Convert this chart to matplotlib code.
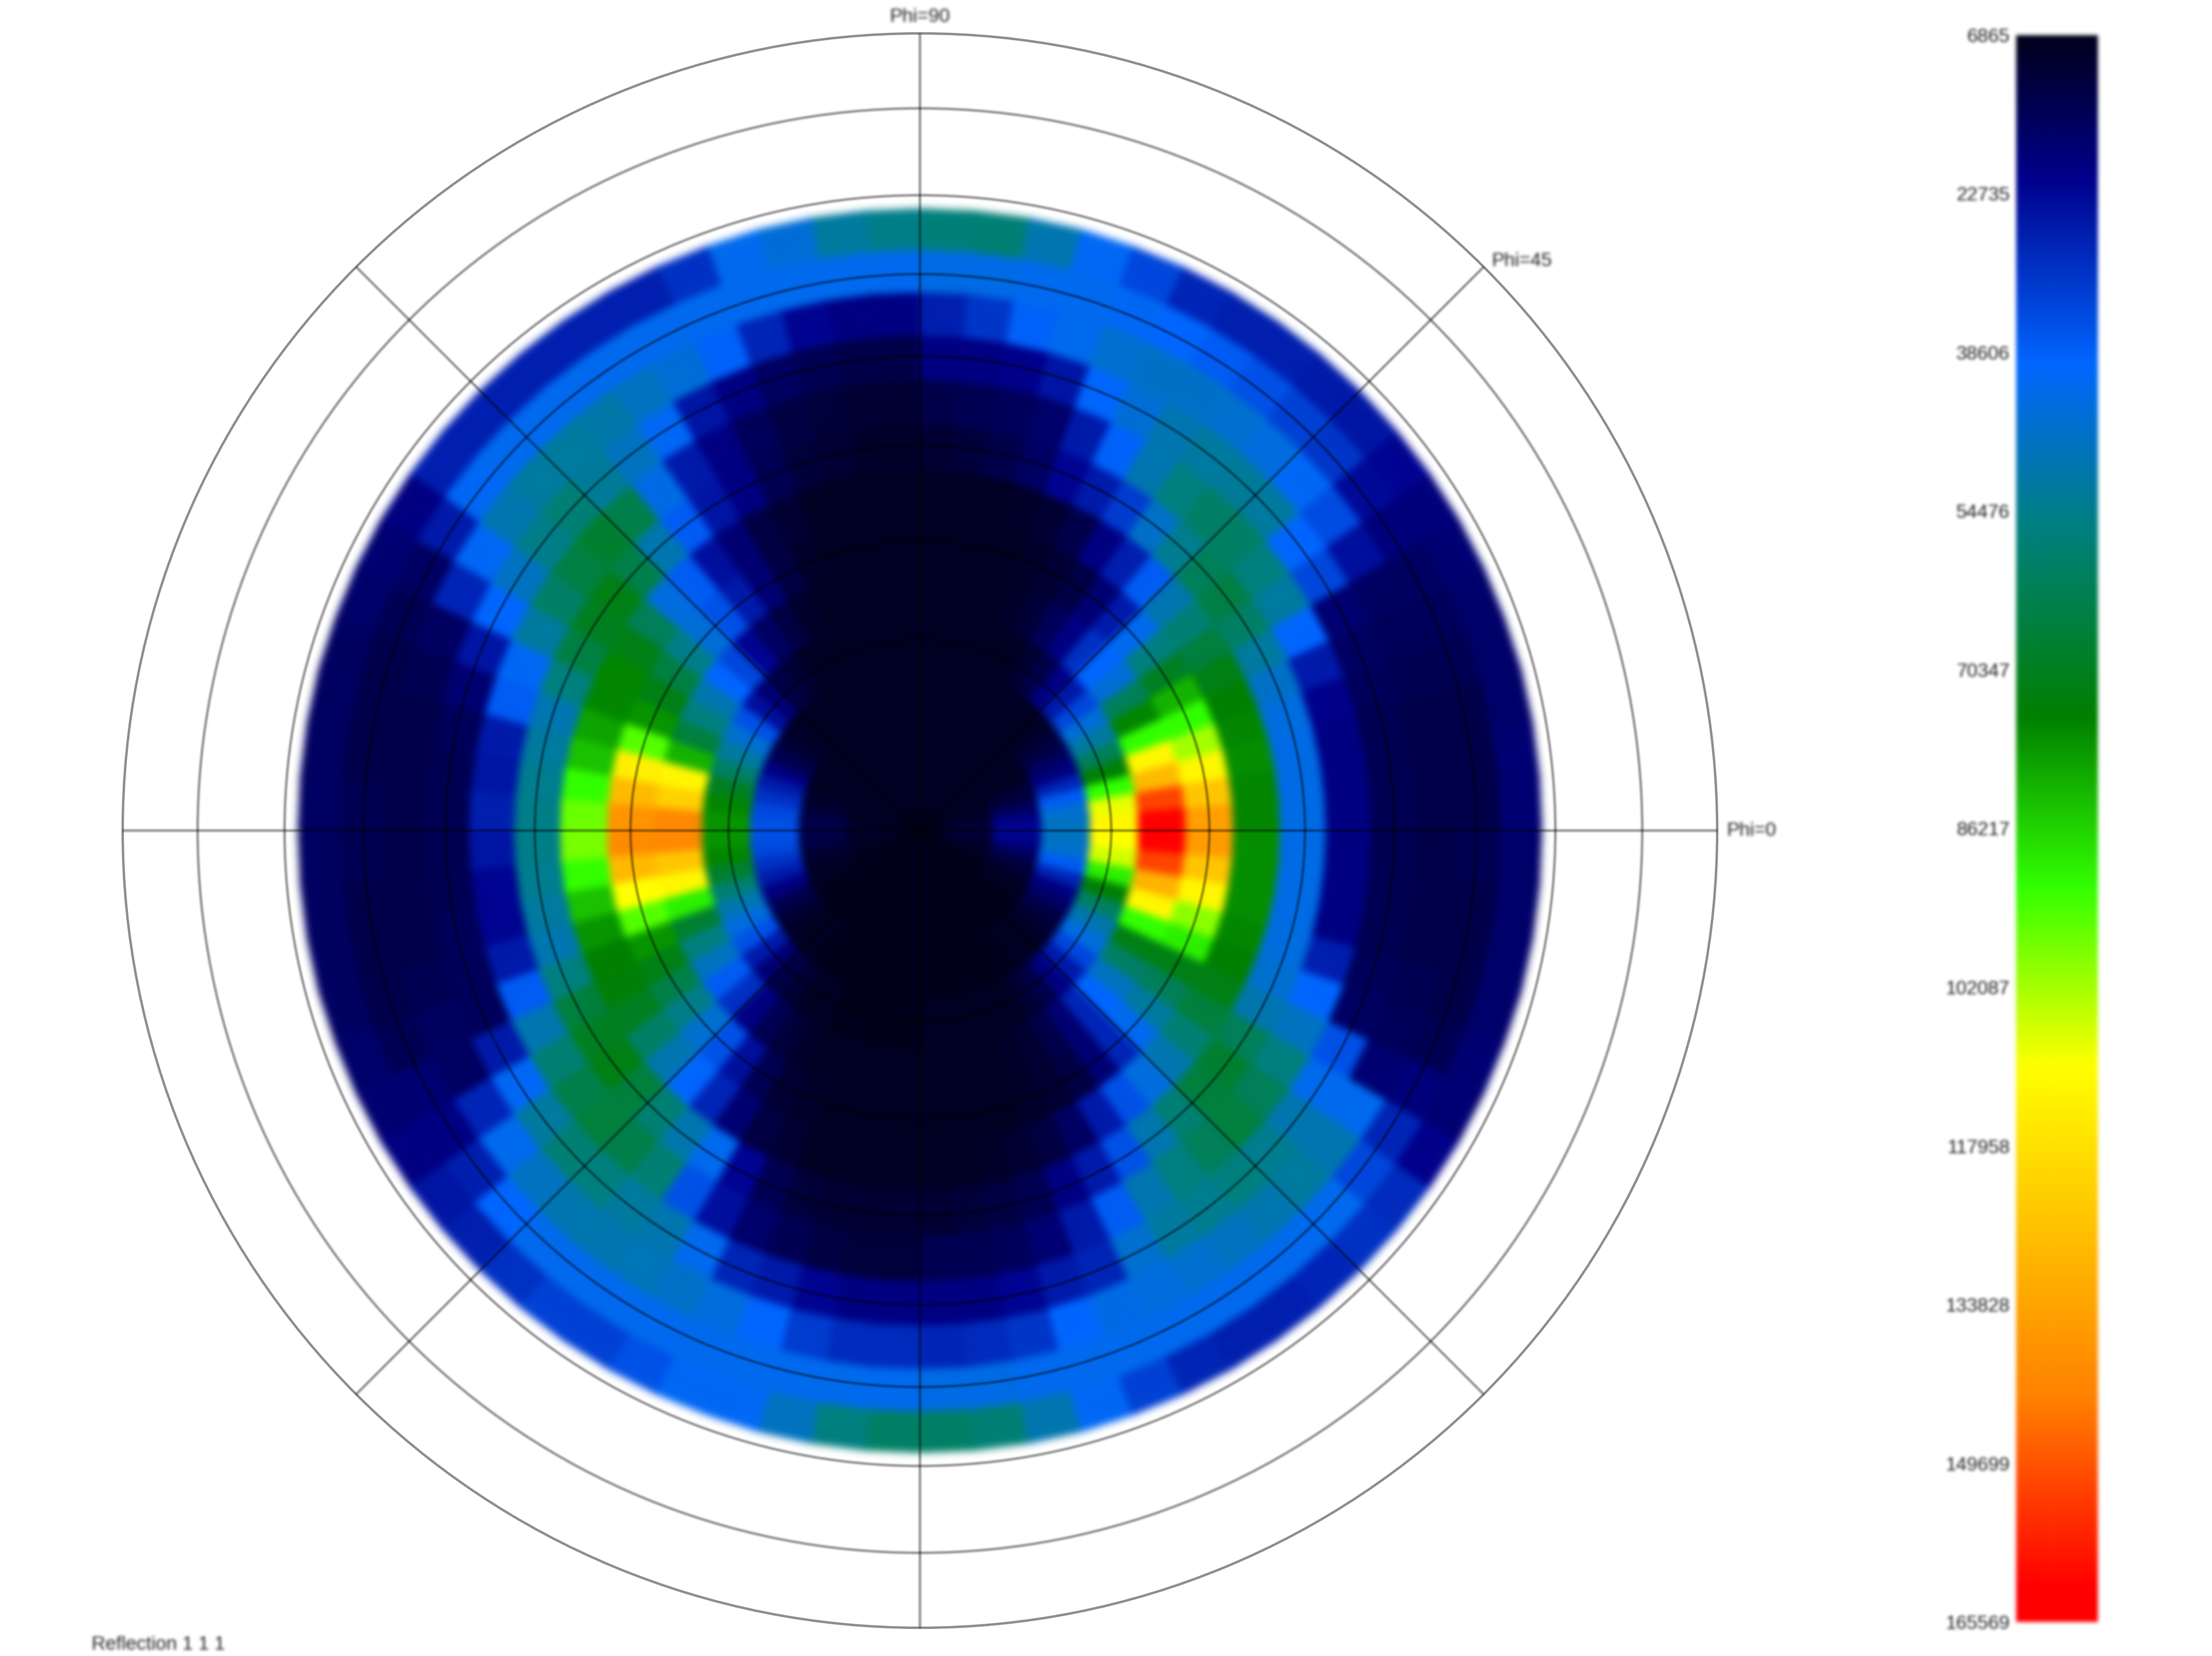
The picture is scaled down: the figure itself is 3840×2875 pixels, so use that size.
import numpy as np
import matplotlib
matplotlib.use('Agg')
import matplotlib.pyplot as plt
from matplotlib.colors import LinearSegmentedColormap, Normalize
from matplotlib.cm import ScalarMappable

plt.rcParams['font.family'] = ['Liberation Sans', 'DejaVu Sans']

# pole figure intensities in thousands of counts
# one row per chi ring (0, 5, ... 65 deg), 18 sectors of 5 deg counted away from the Phi=0/180 axis
upper_right = [
    [7, 7, 7, 7, 7, 7, 7, 7, 7, 7, 7, 7, 7, 7, 7, 7, 8, 8],
    [11, 10, 9, 8, 8, 8, 8, 8, 8, 8, 8, 8, 8, 8, 8, 8, 8, 8],
    [22, 20, 15, 12, 10, 8, 8, 8, 8, 8, 8, 8, 8, 8, 8, 8, 8, 8],
    [48, 46, 38, 28, 20, 16, 12, 10, 8, 8, 8, 8, 8, 8, 8, 8, 8, 8],
    [112, 108, 92, 74, 62, 52, 45, 34, 26, 20, 13, 10, 8, 8, 8, 8, 8, 8],
    [162, 152, 128, 112, 92, 76, 62, 45, 40, 30, 20, 15, 11, 9, 8, 8, 8, 8],
    [135, 125, 112, 102, 92, 82, 70, 56, 42, 26, 18, 12, 10, 9, 8, 8, 8, 8],
    [76, 76, 77, 76, 75, 72, 66, 58, 50, 38, 27, 20, 13, 10, 9, 8, 8, 8],
    [43, 43, 43, 44, 47, 52, 60, 65, 62, 54, 47, 32, 26, 22, 16, 13, 11, 10],
    [20, 20, 20, 21, 26, 40, 52, 56, 60, 60, 56, 50, 39, 26, 17, 15, 14, 13],
    [14, 14, 14, 15, 16, 18, 34, 40, 52, 53, 52, 50, 45, 40, 25, 21, 20, 20],
    [13, 13, 13, 14, 15, 16, 24, 35, 41, 44, 46, 47, 47, 46, 42, 39, 31, 27],
    [13, 13, 13, 14, 15, 16, 19, 23, 31, 33, 36, 38, 40, 41, 42, 42, 43, 43],
    [18, 18, 17, 17, 17, 18, 19, 22, 25, 26, 27, 27, 28, 34, 41, 50, 58, 57],
]
upper_left = [
    [7, 7, 7, 7, 7, 7, 7, 7, 7, 7, 7, 7, 7, 7, 7, 7, 8, 8],
    [9, 8, 8, 8, 8, 8, 8, 8, 8, 8, 8, 8, 8, 8, 8, 8, 8, 8],
    [13, 12, 10, 9, 8, 8, 8, 8, 8, 8, 8, 8, 8, 8, 8, 8, 8, 8],
    [36, 34, 30, 26, 20, 14, 11, 9, 8, 8, 8, 8, 8, 8, 8, 8, 8, 8],
    [78, 76, 70, 60, 52, 46, 36, 24, 18, 12, 10, 8, 8, 8, 8, 8, 8, 8],
    [141, 122, 112, 82, 66, 56, 50, 40, 34, 22, 16, 12, 9, 8, 8, 8, 8, 8],
    [138, 128, 114, 95, 78, 72, 65, 55, 45, 36, 26, 18, 12, 9, 8, 8, 8, 8],
    [97, 92, 84, 80, 76, 76, 72, 62, 44, 38, 24, 18, 12, 10, 8, 8, 8, 8],
    [55, 54, 52, 50, 56, 65, 70, 72, 64, 50, 38, 25, 20, 14, 11, 10, 9, 9],
    [27, 25, 26, 38, 41, 52, 60, 65, 68, 64, 43, 26, 20, 15, 12, 11, 10, 10],
    [14, 14, 15, 18, 25, 40, 48, 55, 58, 53, 48, 41, 25, 20, 16, 14, 13, 13],
    [13, 13, 13, 14, 16, 28, 41, 50, 52, 52, 51, 48, 45, 39, 28, 22, 20, 20],
    [14, 13, 13, 13, 14, 16, 26, 41, 42, 42, 42, 42, 42, 42, 42, 42, 42, 42],
    [16, 16, 16, 16, 17, 18, 20, 27, 27, 27, 27, 27, 27, 30, 42, 45, 52, 55],
]
lower_left = [
    [7, 7, 7, 7, 7, 7, 7, 7, 7, 7, 7, 7, 7, 7, 7, 7, 7, 7],
    [9, 8, 8, 8, 7, 7, 7, 7, 7, 7, 7, 7, 7, 7, 7, 7, 7, 7],
    [13, 12, 10, 9, 8, 8, 7, 7, 7, 7, 7, 7, 7, 7, 7, 7, 7, 7],
    [36, 34, 30, 26, 20, 14, 11, 9, 8, 8, 7, 7, 7, 7, 7, 7, 7, 7],
    [78, 76, 68, 58, 50, 44, 36, 26, 18, 12, 10, 8, 8, 7, 7, 7, 7, 7],
    [141, 125, 112, 90, 68, 56, 48, 38, 30, 20, 14, 11, 9, 8, 8, 8, 8, 8],
    [140, 128, 110, 95, 78, 72, 64, 55, 46, 36, 24, 14, 10, 9, 8, 8, 8, 8],
    [98, 92, 84, 78, 75, 74, 70, 60, 50, 40, 28, 18, 12, 10, 8, 8, 8, 8],
    [55, 54, 52, 50, 56, 66, 70, 72, 66, 58, 50, 42, 22, 14, 11, 10, 10, 10],
    [25, 22, 22, 26, 38, 50, 58, 64, 66, 64, 58, 36, 24, 17, 14, 12, 11, 11],
    [14, 14, 15, 15, 15, 26, 41, 52, 58, 56, 52, 50, 42, 28, 26, 22, 20, 20],
    [13, 13, 13, 14, 16, 16, 28, 42, 48, 50, 50, 49, 47, 44, 40, 32, 29, 29],
    [14, 13, 13, 13, 14, 18, 20, 27, 40, 42, 42, 42, 42, 42, 42, 42, 42, 42],
    [16, 16, 16, 16, 17, 18, 20, 25, 27, 30, 33, 33, 36, 41, 41, 48, 56, 60],
]
lower_right = [
    [7, 7, 7, 7, 7, 7, 7, 7, 7, 7, 7, 7, 7, 7, 7, 7, 7, 7],
    [11, 10, 9, 8, 8, 7, 7, 7, 7, 7, 7, 7, 7, 7, 7, 7, 7, 7],
    [22, 20, 15, 12, 10, 8, 8, 7, 7, 7, 7, 7, 7, 7, 7, 7, 7, 7],
    [48, 46, 38, 28, 20, 16, 12, 10, 8, 8, 8, 7, 7, 7, 7, 7, 7, 7],
    [110, 106, 90, 74, 60, 50, 44, 34, 26, 20, 13, 10, 8, 8, 8, 8, 8, 8],
    [162, 152, 130, 112, 92, 72, 60, 48, 40, 28, 18, 13, 10, 9, 8, 8, 8, 8],
    [136, 125, 112, 100, 90, 72, 62, 52, 42, 28, 18, 12, 10, 9, 8, 8, 8, 8],
    [77, 77, 77, 76, 75, 72, 66, 58, 50, 44, 36, 26, 16, 12, 10, 9, 8, 8],
    [43, 43, 43, 44, 46, 50, 62, 68, 66, 58, 50, 36, 26, 20, 14, 12, 11, 10],
    [20, 20, 20, 27, 40, 48, 56, 62, 66, 62, 56, 50, 38, 26, 18, 15, 14, 14],
    [14, 14, 14, 15, 16, 36, 42, 50, 54, 56, 54, 52, 46, 28, 26, 22, 20, 20],
    [13, 13, 13, 14, 15, 18, 42, 50, 52, 50, 48, 46, 44, 43, 40, 31, 29, 28],
    [14, 13, 13, 13, 14, 19, 28, 34, 42, 42, 42, 42, 42, 42, 42, 42, 43, 43],
    [17, 17, 17, 17, 18, 18, 21, 29, 30, 28, 27, 27, 28, 33, 41, 50, 58, 60],
]

chi_edges = [0, 2.5, 7.5, 12.5, 17.5, 22.5, 27.5, 32.5, 37.5, 42.5, 47.5, 52.5, 57.5, 62.5, 67.5]
grid_rings = [0.24, 0.363, 0.483, 0.595, 0.698, 0.797, 0.906]
phi_lines = [0, 45, 90, 135, 180, 225, 270, 315]

tick_values = [6865, 22735, 38606, 54476, 70347, 86217, 102087, 117958, 133828, 149699, 165569]

# colour stops, top to bottom
cmap_stops = [
    (0.0, '#00001a'), (0.09, '#00008c'), (0.207, '#0066ff'), (0.31, '#008080'),
    (0.43, '#008000'), (0.537, '#33ff00'), (0.65, '#ffff00'), (0.86, '#ff8000'),
    (0.978, '#ff0000'), (1.0, '#ff0000'),
]
cmap = LinearSegmentedColormap.from_list('pole', cmap_stops, N=1024)
norm = Normalize(vmin=tick_values[0], vmax=tick_values[-1])


def box(a, r, axis):
    # running mean along one axis
    c = np.cumsum(np.moveaxis(a, axis, 0), axis=0)
    out = np.zeros_like(c)
    out[:r + 1] = c[r:2 * r + 1]
    out[r + 1:-r] = c[2 * r + 1:] - c[:-2 * r - 1]
    out[-r:] = c[-1] - c[-2 * r - 1:-r - 1]
    return np.moveaxis(out / (2 * r + 1), 0, axis)


def soften(a, r):
    for _ in range(3):
        a = box(box(a, r, 0), r, 1)
    return a


def blur(r):
    # the reference is an enlarged small picture, so everything in it is soft
    def apply(im, dpi):
        pad = 4 * r
        big = np.pad(im, ((pad, pad), (pad, pad), (0, 0)))
        alpha = soften(big[:, :, 3], r)
        if np.ptp(big[:, :, :3]) < 1 / 255 + 1e-6 or big[:, :, :3].max() < 0.01:
            rgb = big[:, :, :3]
        else:
            rgb = soften(big[:, :, :3] * big[:, :, 3:], r) / np.maximum(alpha[:, :, None], 1e-3)
        return np.clip(np.dstack([rgb, alpha]), 0, 1), -pad, -pad
    return apply


W, H = 3840, 2875
fig = plt.figure(figsize=(W / 100, H / 100), dpi=100, facecolor='white')

# polar axes, centre (1597, 1442) and outer radius 1384 in pixels
R = 1384
ax = fig.add_axes([(1597 - R) / W, (H - 1442 - R) / H, 2 * R / W, 2 * R / H], projection='polar')

grid = np.hstack([np.array(upper_right), np.array(upper_left)[:, ::-1],
                  np.array(lower_left), np.array(lower_right)[:, ::-1]]) * 1000.0
theta = np.radians(np.arange(0, 365, 5))
radius = 1.405 * np.sin(np.radians(chi_edges) / 2)
mesh = ax.pcolormesh(theta, radius, grid, cmap=cmap, norm=norm, shading='flat', antialiased=False)
mesh.set_agg_filter(blur(6))

ax.set_ylim(0, 1)
ax.set_yticks(grid_rings)
ax.set_xticks(np.radians(phi_lines))
ax.set_xticklabels([])
ax.set_yticklabels([])
ax.set_axisbelow(False)
ax.grid(True, color='black', alpha=0.45, linewidth=3.0)
ax.tick_params(length=0)
ax.spines['polar'].set_edgecolor((0, 0, 0, 0.45))
ax.spines['polar'].set_linewidth(3.0)
ax.patch.set_alpha(0)
for line in ax.xaxis.get_gridlines() + ax.yaxis.get_gridlines():
    line.set_agg_filter(blur(1))

label_kw = dict(fontsize=24, color='#222222', va='center', agg_filter=blur(2))
fig.text(2997 / W, 1 - 1443 / H, 'Phi=0', ha='left', **label_kw)
fig.text(2589 / W, 1 - 453 / H, 'Phi=45', ha='left', **label_kw)
fig.text(1597 / W, 1 - 29 / H, 'Phi=90', ha='center', **label_kw)
fig.text(159 / W, 1 - 2855 / H, 'Reflection 1 1 1', ha='left', **label_kw)

# colour bar: low at the top, high at the bottom
cax = fig.add_axes([3500 / W, (H - 2816) / H, 142 / W, 2755 / H])
cb = fig.colorbar(ScalarMappable(norm=norm, cmap=cmap), cax=cax)
cb.outline.set_visible(False)
cb.solids.set_agg_filter(blur(3))
cax.invert_yaxis()
cax.yaxis.set_ticks_position('left')
cb.set_ticks(tick_values)
cb.set_ticklabels([str(v) for v in tick_values])
cax.tick_params(length=0, pad=8, labelsize=24, labelcolor='#222222')
for lab in cax.get_yticklabels():
    lab.set_agg_filter(blur(2))

fig.savefig('out.png', dpi=100)
